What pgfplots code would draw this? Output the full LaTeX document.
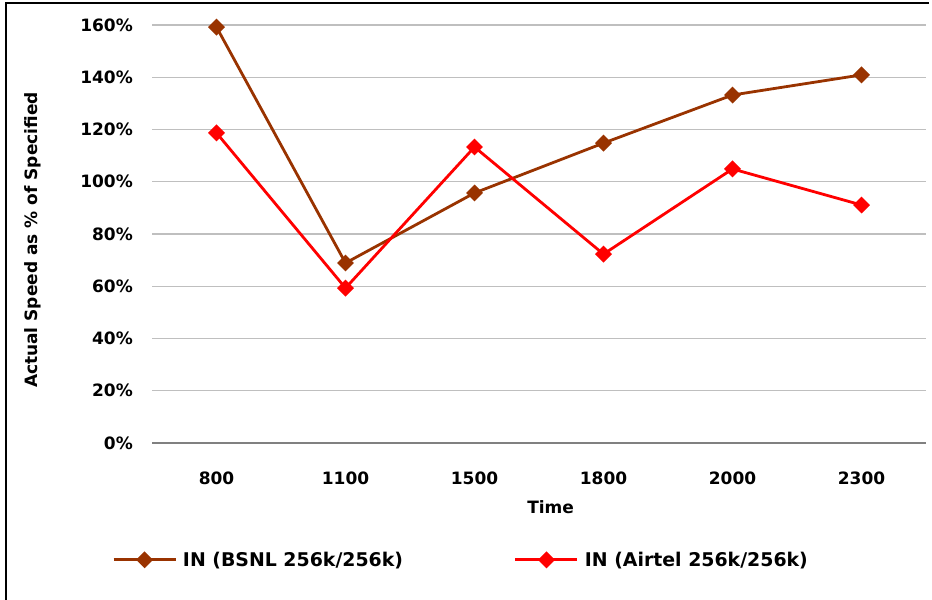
\documentclass[border=0pt]{standalone}
\usepackage{pgfplots}
\pgfplotsset{compat=1.18}
\usepackage{fontspec}
\setmainfont{DejaVu Sans}
\definecolor{bsnl}{RGB}{153,51,0}
\definecolor{gridc}{RGB}{191,191,191}
\definecolor{axc}{RGB}{128,128,128}
\newcommand\tf{\fontsize{17bp}{20bp}\selectfont\bfseries}
\newcommand\lf{\fontsize{18.9bp}{22bp}\selectfont\bfseries}
\begin{document}
\begin{tikzpicture}[x=1bp,y=1bp]
\useasboundingbox (0,0) rectangle (932,-600);
\draw[line width=1.5bp] (6,-600) -- (6,-3) -- (929,-3);
\begin{axis}[
  at={(152bp,-443bp)}, anchor=south west,
  scale only axis, width=774bp, height=418bp,
  xmin=-0.5, xmax=5.5, ymin=0, ymax=160,
  xtick={0,1,2,3,4,5},
  xticklabels={800,1100,1500,1800,2000,2300},
  ytick={0,20,40,60,80,100,120,140,160},
  yticklabels={0\%,20\%,40\%,60\%,80\%,100\%,120\%,140\%,160\%},
  ymajorgrids, grid style={gridc, line width=1.3bp},
  axis x line*=bottom, axis y line*=left,
  x axis line style={-, axc, line width=1.5bp},
  y axis line style={draw=none},
  tick style={draw=none}, major tick length=0pt,
  xticklabel style={font=\tf, anchor=center, yshift=-35bp},
  yticklabel style={font=\tf, anchor=east, inner sep=0pt, xshift=-19bp},
  xlabel={Time}, ylabel={Actual Speed as \% of Specified},
  xlabel style={font=\tf, at={(axis description cs:0.515,0)}, anchor=center, yshift=-64bp},
  ylabel style={font=\tf, at={(axis description cs:-0.1537,0.4856)}, anchor=center, rotate=0},
  legend columns=2,
  legend cell align=left,
  legend style={at={(axis description cs:-0.0517,-0.2795)}, anchor=west, draw=none, fill=none, inner sep=0pt, font=\lf,
    /tikz/column 1/.style={column sep=4bp},
    /tikz/column 2/.style={column sep=109bp},
    /tikz/column 3/.style={column sep=4bp}},
  legend image code/.code={\draw[mark repeat=2,mark phase=2] plot coordinates {(0bp,0bp)(31bp,0bp)(62bp,0bp)};},
]
\addplot[bsnl, line width=2.8bp, mark=square*, mark size=4.6bp, mark options={rotate=45, solid}]
  coordinates {(0,159.2) (1,68.9) (2,95.7) (3,114.8) (4,133.2) (5,140.9)};
\addlegendentry{IN (BSNL 256k/256k)}
\addplot[red, line width=2.8bp, mark=square*, mark size=4.6bp, mark options={rotate=45, solid}]
  coordinates {(0,118.7) (1,59.3) (2,113.3) (3,72.3) (4,104.9) (5,91.1)};
\addlegendentry{IN (Airtel 256k/256k)}
\end{axis}
\end{tikzpicture}
\end{document}
